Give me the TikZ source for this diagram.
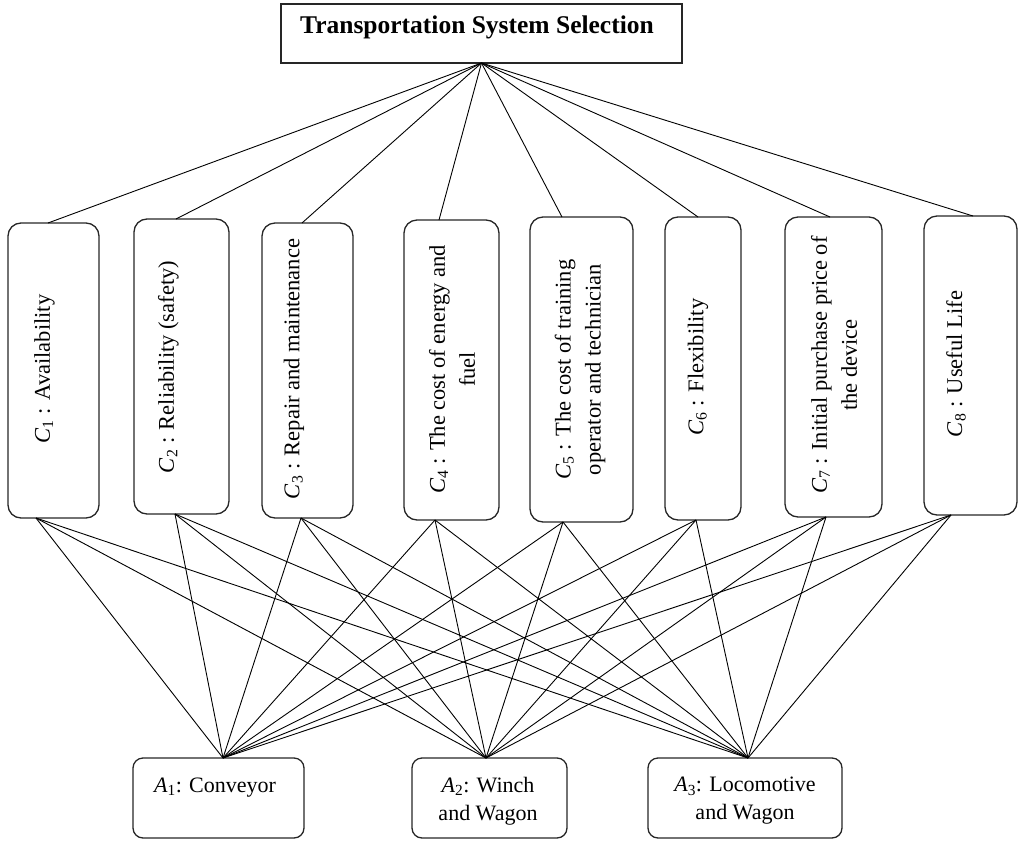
\documentclass[tikz,border=0pt]{standalone}
\usepackage{fontspec}
\setmainfont{Liberation Serif}
\newcommand{\Cc}[1]{\textit{C}\textsubscript{#1}}
\newcommand{\Aa}[1]{\textit{A}\textsubscript{#1}}
\tikzset{
 cbox/.style={draw=black!85,line width=1.3pt,rounded corners=13pt,inner sep=0pt,outer sep=0pt},
 abox/.style={draw=black!85,line width=1.3pt,rounded corners=10pt,inner sep=0pt,outer sep=0pt},
 tbox/.style={draw=black!85,line width=1.6pt,inner sep=0pt,outer sep=0pt},
 clab/.style={rotate=90,inner sep=0pt,align=center,font=\fontsize{22.5pt}{30pt}\selectfont},
 alab/.style={inner sep=0pt,align=center,font=\fontsize{22pt}{28pt}\selectfont},
 link/.style={draw=black,line width=0.9pt}
}
\begin{document}
\begin{tikzpicture}[x=1pt,y=-1pt]
\useasboundingbox (0,0) rectangle (1018,841);
% goal
\node[tbox,minimum width=401pt,minimum height=59pt] (top) at (481.5,33.5) {};
\node[inner sep=0pt,anchor=base,font=\fontsize{25.5pt}{30pt}\selectfont\bfseries] (ttl) at (477,33) {Transportation System Selection};
% criteria boxes
\node[cbox,minimum width=91pt,minimum height=295pt] (c1) at (53.5,370.5) {};
\node[cbox,minimum width=95pt,minimum height=295pt] (c2) at (181.5,366.5) {};
\node[cbox,minimum width=91pt,minimum height=295pt] (c3) at (307.5,370.5) {};
\node[cbox,minimum width=95pt,minimum height=300pt] (c4) at (451.5,370) {};
\node[cbox,minimum width=103pt,minimum height=305pt] (c5) at (581.5,369.5) {};
\node[cbox,minimum width=76pt,minimum height=303pt] (c6) at (703,368.5) {};
\node[cbox,minimum width=97pt,minimum height=300pt] (c7) at (833.5,367) {};
\node[cbox,minimum width=93pt,minimum height=299pt] (c8) at (970.5,365.5) {};
% criteria labels
\node[clab] (l1) at (44.5,369) {\Cc{1} : Availability};
\node[clab] (l2) at (168.5,367) {\Cc{2} : Reliability (safety)};
\node[clab] (l3) at (294,369) {\Cc{3} : Repair and maintenance};
\node[clab] (l4) at (452,369.5) {\Cc{4} : The cost of energy and\\fuel};
\node[clab] (l5) at (580,369.5) {\Cc{5} : The cost of training\\operator and technician};
\node[clab] (l6) at (698,367) {\Cc{6} : Flexibility};
\node[clab] (l7) at (834,365) {\Cc{7} : Initial purchase price of\\the device};
\node[clab] (l8) at (956,364) {\Cc{8} : Useful Life};
% alternatives
\node[abox,minimum width=171pt,minimum height=80pt] (a1) at (218.5,798) {};
\node[abox,minimum width=155pt,minimum height=80pt] (a2) at (489.5,798) {};
\node[abox,minimum width=194pt,minimum height=80pt] (a3) at (745,798) {};
\node[alab,anchor=base] (la1) at (215,792) {\Aa{1}: Conveyor};
\node[alab] (la2) at (488,801) {\Aa{2}: Winch\\and Wagon};
\node[alab] (la3) at (745,801) {\Aa{3}: Locomotive\\and Wagon};
% goal to criteria
\foreach \i/\s in {1/-5.5,2/-5.5,3/-5.5,4/-12.5,5/-19.5,6/-5,7/-3.5,8/2.5}
  \draw[link] (top.south) -- ([xshift=\s pt]c\i.north);
% criteria to alternatives
\foreach \i/\s in {1/-17.5,2/-6.5,3/-6.5,4/-16.5,5/-18.5,6/-7,7/-7.5,8/-19.5}
  \foreach \j/\t in {1/4.5,2/-3.5,3/3}
    \draw[link] ([xshift=\s pt]c\i.south) -- ([xshift=\t pt]a\j.north);
\end{tikzpicture}
\end{document}
